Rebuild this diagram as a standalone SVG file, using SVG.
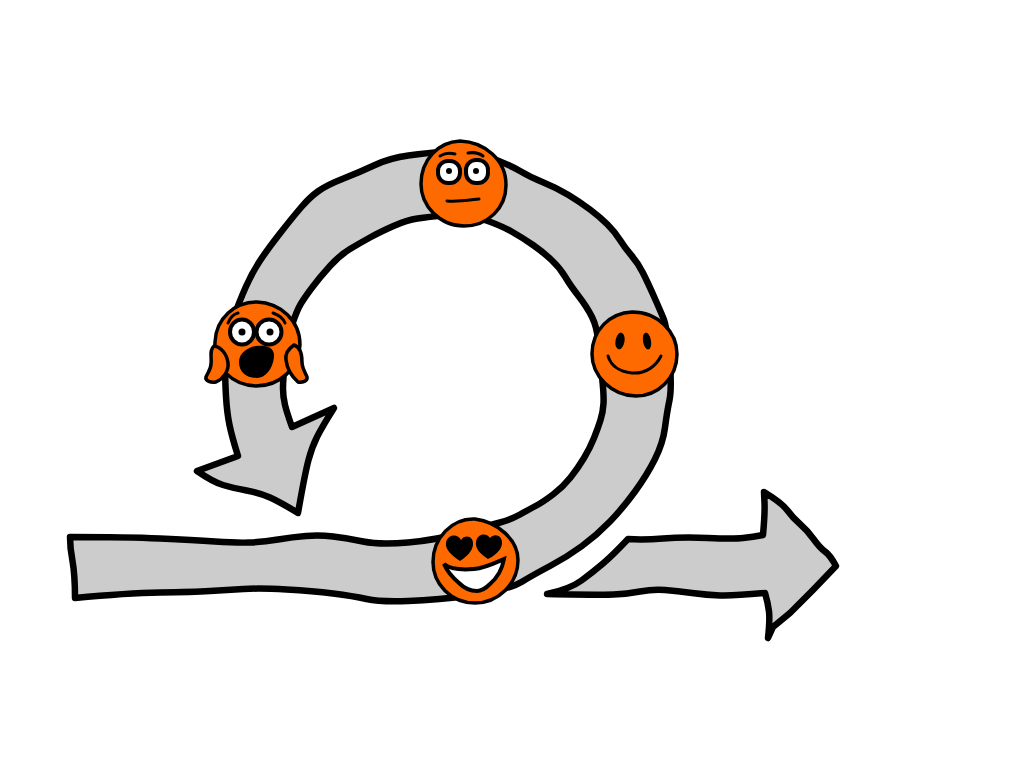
<svg xmlns="http://www.w3.org/2000/svg" width="1024" height="768" viewBox="0 0 1024 768">
<style>
.arrow{fill:#cccccc;stroke:#000;stroke-width:6.5;stroke-linejoin:round;stroke-linecap:round}
.face{fill:#ff6a00;stroke:#000;stroke-width:3.5;stroke-linejoin:round}
.eye{fill:#fff;stroke:#000;stroke-width:4}
.ink{fill:#000}
.line{fill:none;stroke:#000;stroke-width:3;stroke-linecap:round}
</style>
<rect width="1024" height="768" fill="#fff"/>
<g id="connectors">
<path id="loop-arrow" class="arrow" d="M70 537 Q127 537 160 538.5 Q193 540 215 541.5 Q237 543 250 542.5 Q263 542 278 539.5 Q293 537 306 536 Q320 535 333 536.5 Q347 538 363 541.5 Q380 545 408 542.5 Q437 540 470 531 Q490 525 500 522.5 Q510 520 520 514.5 Q530 509 536.5 505.5 Q543 502 553 494.5 Q563 487 570.5 477.5 Q578 468 584 458 Q590 448 594 438 Q598 428 600.5 420 Q603 412 603.5 403.5 Q604 395 602 377 Q600 360 598.5 343 Q597 327 592 317 Q587 307 578.5 296 Q570 285 565 276.5 Q560 268 551.5 260 Q543 252 533 245 Q523 238 511.5 231.5 Q500 225 482 219 Q465 213 446 215 Q428 217 417.5 218.5 Q407 220 393.5 226 Q380 232 370 237.5 Q360 243 350 249 Q340 255 330 266 Q320 277 312.5 287 Q305 297 301 303.5 Q297 310 292 325 Q287 340 285 360 Q283 380 283 388.5 Q283 397 285 405 Q287 413 292 427 L334 408 Q322 427 317 437 Q312 447 308.5 460 Q305 473 298 513 Q280 502 270 497.5 Q260 493 246.5 490.5 Q233 488 223 485 Q213 482 197 471 L238 456 Q232 437 229.5 425 Q227 413 226 396.5 Q225 380 225 360 Q225 340 232.5 320 Q240 300 246 286.5 Q252 273 259.5 261.5 Q267 250 279.5 234 Q292 218 301 207.5 Q310 197 318.5 191 Q327 185 343.5 178.5 Q360 172 375 165 Q390 158 408.5 155.5 Q427 153 450 151 Q470 150 490 157.5 Q510 165 520 171 Q530 177 543.5 182.5 Q557 188 568.5 195 Q580 202 590 209.5 Q600 217 607.5 224.5 Q615 232 620 240 Q625 248 631.5 255.5 Q638 263 643 273 Q648 283 654 296.5 Q660 310 663.5 318.5 Q667 327 669.5 357 Q672 388 669.5 400 Q667 412 665 427.5 Q663 443 655 459 Q647 475 635 491.5 Q623 508 610 521.5 Q597 535 582 546 Q567 557 550 566 Q533 575 521.5 582 Q510 589 475 595 Q437 600 408 601 Q380 602 366.5 599 Q353 596 333 593.5 Q313 591 286.5 589.5 Q260 588 243.5 589 Q227 590 210 591 Q193 592 160 592.5 Q127 593 75 598 Q75 575 72.5 561 Q70 548 70 537 Z"/>
<path id="exit-arrow" class="arrow" d="M547 594 Q570 589 581.5 580.5 Q593 572 603 563.5 Q613 555 628 539 Q643 540 663 538.5 Q683 537 708 538 Q733 539 743 538 Q753 537 763 535 Q765 513 764.5 502.5 L764 492 Q782 503 787.5 510.5 Q793 518 800 524 Q807 530 813.5 539 Q820 548 825 551.5 Q830 555 836 566 L813 590 L790 613 L773 627 L768 638 Q770 620 769 611.5 Q768 603 765 593 Q733 596 720 595.5 Q707 595 692 593 Q677 591 665 590 Q653 589 640 591.5 Q627 594 613.5 594.5 Q600 595 547 594 Z"/>
</g>
<g id="face-scared">
<path class="face" d="M257 302 C280 303 300 320 300 345 C299 368 280 386 256 386 C232 385 214 368 215 342 C216 318 235 302 257 302 Z"/>
<path class="face" d="M214 346 C221 347 227 354 228 363 C229 371 223 379 216 382 C211 383 205 381 206 377 C208 372 211 369 211 364 C212 358 209 350 214 346 Z"/>
<path class="face" d="M294 345 C288 349 285 354 286 360 C287 368 290 375 298 382 C302 383 308 381 307 377 C305 372 302 368 302 362 C302 355 300 347 294 345 Z"/>
<ellipse class="eye" cx="242" cy="332" rx="12" ry="12.5"/>
<ellipse class="eye" cx="269" cy="332" rx="12.5" ry="12.5"/>
<circle class="ink" cx="242" cy="332" r="3.5"/>
<circle class="ink" cx="270" cy="332" r="3.5"/>
<path class="line" d="M228 323 C230 318 234 314 238 313"/>
<path class="line" d="M273 313 C279 315 283 318 285 323"/>
<path class="ink" d="M256 346 C266 345 275 347 274 357 C273 369 265 378 257 378 C246 378 239 372 239 362 C239 353 248 347 256 346 Z"/>
</g>
<g id="face-neutral">
<path class="face" d="M460 141 C485 142 506 160 506 185 C506 208 488 226 464 226 C440 226 421 206 421 184 C421 160 438 142 460 141 Z"/>
<rect class="eye" x="438" y="161" width="22" height="22" rx="10"/>
<rect class="eye" x="466" y="160" width="22" height="23" rx="10"/>
<circle class="ink" cx="449" cy="171" r="3"/>
<circle class="ink" cx="476" cy="171" r="3"/>
<path class="line" d="M440 156 C445 153 451 153 455 154"/>
<path class="line" d="M468 153 C474 152 479 153 483 156"/>
<path class="line" d="M447 201 C458 202 470 200 479 199"/>
</g>
<g id="face-happy">
<path class="face" d="M632 312 C658 312 677 332 677 354 C677 378 658 396 636 396 C612 396 592 376 592 354 C592 330 610 313 632 312 Z"/>
<ellipse class="ink" cx="620" cy="341" rx="4.5" ry="8.5" transform="rotate(10 620 341)"/>
<ellipse class="ink" cx="647" cy="341" rx="4" ry="8.5" transform="rotate(-10 647 341)"/>
<path class="line" d="M608 356 C611 366 620 372 632 373 C646 374 656 366 661 356"/>
</g>
<g id="face-love">
<path class="face" d="M475 519 C498 522 518 540 518 560 C518 584 498 603 475 603 C451 603 433 584 433 562 C433 538 452 518 475 519 Z"/>
<path class="ink" d="M460 561 C451 555 445 549 446 543 C447 534 458 533 461 540 C465 534 474 536 473 545 C472 552 466 557 460 561 Z"/>
<path class="ink" d="M488 559 C480 554 475 548 476 542 C477 534 486 532 490 538 C494 533 503 535 502 544 C501 551 494 556 488 559 Z"/>
<path class="eye" d="M444 564 C450 569 462 570 474 569 C485 568 495 563 504 559 C502 570 497 578 490 584 C486 588 482 591 477 591 C470 591 464 588 459 583 C452 577 447 571 444 564 Z"/>
</g>
</svg>
